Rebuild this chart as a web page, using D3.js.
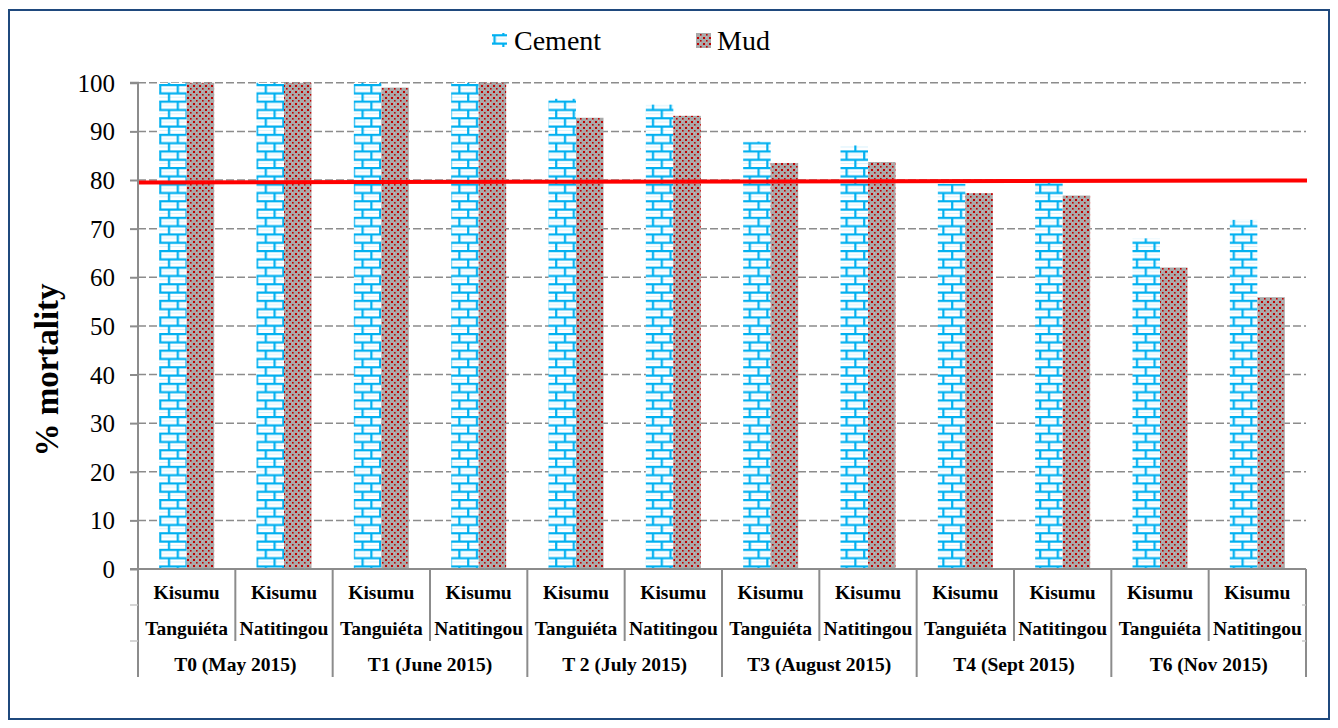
<!DOCTYPE html>
<html><head><meta charset="utf-8">
<script src="https://cdn.jsdelivr.net/npm/d3@7"></script>
<style>body{margin:0;background:#fff}svg{display:block}svg text{font-family:"Liberation Serif","Tinos","Times New Roman","DejaVu Serif",serif}</style>
</head><body>
<svg id="c" width="1338" height="728"></svg>
<script>
const sites = ["Kisumu Tanguiéta","Kisumu Natitingou"];
const periods = ["T0 (May 2015)","T1 (June 2015)","T 2 (July 2015)","T3 (August 2015)","T4 (Sept 2015)","T6 (Nov 2015)"];
const series = ["Cement","Mud"];
const cement = [100,100,100,100,96.7,95.5,87.9,87.1,79.2,79.4,68.0,71.8];
const mud    = [100,100,99.0,100,92.8,93.2,83.5,83.7,77.3,76.8,62.0,55.9];
const yTicks = [0,10,20,30,40,50,60,70,80,90,100];
const threshold = [79.5,79.9];

const FONT = '"Liberation Serif","Tinos","Times New Roman","DejaVu Serif",serif';
const svg = d3.select("#c");
const M = {l:138, r:1306, t:82.75, b:569};
const cats = d3.range(12);
const x = d3.scaleBand().domain(cats).range([M.l,M.r]).padding(0);
const x1 = d3.scaleBand().domain(series).range([0,x.bandwidth()]).paddingInner(0).paddingOuter(0.77);
const y = d3.scaleLinear().domain([0,100]).range([M.b,M.t]);

// patterns
const defs = svg.append("defs");
const pb = defs.append("pattern").attr("id","brick").attr("patternUnits","userSpaceOnUse")
  .attr("width",17.6).attr("height",16.6).attr("x",159).attr("y",84);
pb.append("rect").attr("width",17.6).attr("height",16.6).attr("fill","#fff");
pb.append("path").attr("d","M0,1H17.6M0,9.3H17.6").attr("stroke","#00B0F0").attr("stroke-width",2.2);
pb.append("path").attr("d","M0,4.9H17.6M0,13.2H17.6").attr("stroke","#d6f1fc").attr("stroke-width",1);
pb.append("path").attr("d","M1.2,1V9.3M10,9.3V17.6").attr("stroke","#00B0F0").attr("stroke-width",2.2);
const pm = defs.append("pattern").attr("id","dots").attr("patternUnits","userSpaceOnUse")
  .attr("width",6).attr("height",6);
pm.append("rect").attr("width",6).attr("height",6).attr("fill","#A9A9A9");
pm.append("rect").attr("x",1).attr("y",1).attr("width",2).attr("height",2).attr("fill","#C00000");
pm.append("rect").attr("x",4).attr("y",4).attr("width",1.6).attr("height",1.6).attr("fill","#C00000");
pm.append("rect").attr("x",4).attr("y",0.5).attr("width",1).attr("height",1).attr("fill","#e7b7b7");

// border
svg.append("rect").attr("x",9).attr("y",10).attr("width",1320).attr("height",709)
  .attr("fill","none").attr("stroke","#1F497D").attr("stroke-width",2);

// gridlines
svg.append("g").selectAll("line").data(yTicks.filter(d=>d>0)).join("line")
  .attr("x1",M.l).attr("x2",M.r).attr("y1",d=>y(d)).attr("y2",d=>y(d))
  .attr("stroke","#8c8c8c").attr("stroke-width",1.5).attr("stroke-dasharray","8,3");

// bars
const data = cats.map(i=>({i, vals:[cement[i],mud[i]]}));
const g = svg.append("g");
data.forEach(d=>{
  series.forEach((s,k)=>{
    g.append("rect").attr("x",x(d.i)+x1(s)).attr("width",x1.bandwidth())
      .attr("y",y(d.vals[k])).attr("height",y(0)-y(d.vals[k]))
      .attr("fill",k===0?"url(#brick)":"url(#dots)");
  });
});

// threshold line
svg.append("line").attr("x1",M.l).attr("x2",M.r+1).attr("y1",y(threshold[0])).attr("y2",y(threshold[1]))
  .attr("stroke","#FF0000").attr("stroke-width",4);

// y axis
const yAxis = d3.axisLeft(y).tickValues(yTicks).tickSize(8).tickPadding(15);
const ya = svg.append("g").attr("transform",`translate(${M.l},0)`).call(yAxis).attr("font-family",FONT);
ya.select(".domain").attr("stroke","#8c8c8c").attr("stroke-width",2).attr("d",`M-8,${M.t}H0V${M.b}`);
ya.selectAll(".tick line").attr("stroke","#8c8c8c").attr("stroke-width",2);
ya.selectAll(".tick text").attr("font-size",25).attr("fill","#000").style("font-family",FONT).attr("dy","0.34em");

svg.append("text").attr("transform",`translate(58,370) rotate(-90)`).style("font-family",FONT)
  .attr("text-anchor","middle").attr("font-size",33).attr("font-weight","bold").text("% mortality");

// category table axis
const ax = svg.append("g").attr("stroke","#8c8c8c").attr("stroke-width",2);
ax.append("line").attr("x1",M.l-8).attr("x2",M.r).attr("y1",M.b).attr("y2",M.b);
d3.range(13).forEach(i=>{
  const xx = i<12 ? x(i) : M.r;
  ax.append("line").attr("x1",xx).attr("x2",xx).attr("y1",M.b).attr("y2", i%2===0?677:641);
});
[605,641].forEach(yy=>{
  ax.append("line").attr("x1",M.l-8).attr("x2",M.l).attr("y1",yy).attr("y2",yy).attr("stroke","#c8c8c8").attr("stroke-width",1.5);
  ax.append("line").attr("x1",M.r-4).attr("x2",M.r).attr("y1",yy).attr("y2",yy).attr("stroke","#c8c8c8").attr("stroke-width",1.5);
});
const lab = svg.append("g").attr("font-weight","bold").attr("font-size",19.5).attr("text-anchor","middle");
cats.forEach(i=>{
  const cx = x(i)+x.bandwidth()/2;
  const parts = sites[i%2].split(" ");
  lab.append("text").attr("x",cx).attr("y",599).style("font-family",FONT).text(parts[0]);
  lab.append("text").attr("x",cx).attr("y",635).style("font-family",FONT).text(parts[1]);
});
periods.forEach((p,j)=>{
  const cx = x(2*j)+x.bandwidth();
  lab.append("text").attr("x",cx).attr("y",671).style("font-family",FONT).text(p);
});

// legend
const lg = svg.append("g");
lg.append("rect").attr("x",492).attr("y",33).attr("width",15).attr("height",14).attr("fill","url(#brick)");
lg.append("text").attr("x",514).attr("y",50).attr("font-size",28).style("font-family",FONT).text("Cement");
lg.append("rect").attr("x",696).attr("y",33).attr("width",15).attr("height",15).attr("fill","url(#dots)");
lg.append("text").attr("x",717).attr("y",50).attr("font-size",28).style("font-family",FONT).text("Mud");
</script>
</body></html>
